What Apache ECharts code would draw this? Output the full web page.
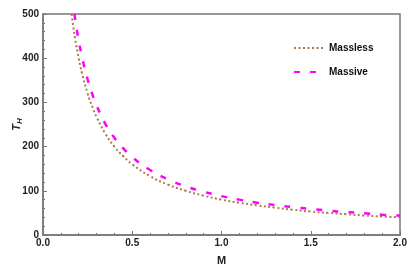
<!DOCTYPE html>
<html><head><meta charset="utf-8">
<script src="https://cdn.jsdelivr.net/npm/echarts@6/dist/echarts.min.js"></script>
<style>html,body{margin:0;padding:0;background:#fff}#c{width:415px;height:272px}</style>
</head><body><div id="c"></div>
<script>
const masslessM = [0.16,0.17,0.18,0.2,0.22,0.25,0.28,0.3,0.35,0.4,0.45,0.5,0.6,0.7,0.8,0.9,1.0,1.1,1.2,1.3,1.4,1.5,1.6,1.7,1.8,1.9,2.0];
const masslessT = [500,471,444,400,364,320,286,267,229,200,178,160,133,114,100,89,80,73,67,62,57,53,50,47,44,42,40];
const massiveM = [0.176,0.19,0.2,0.22,0.25,0.28,0.3,0.35,0.4,0.45,0.5,0.6,0.7,0.8,0.9,1.0,1.1,1.2,1.3,1.4,1.5,1.6,1.7,1.8,1.9,2.0];
const massiveT = [500,463,440,400,352,314,293,251,220,196,176,147,126,110,98,88,80,73,68,63,59,55,52,49,46,44];
const xTicks = [0.0,0.5,1.0,1.5,2.0];
const yTicks = [0,100,200,300,400,500];
const seriesNames = ['Massless','Massive'];

const font = 'Liberation Sans, Arial, sans-serif';
const chart = echarts.init(document.getElementById('c'), null, {renderer:'canvas'});
const pairs = (xs, ys) => xs.map((x,i)=>[x, ys[i]]);
chart.setOption({
  animation:false,
  grid:{left:43, right:15, top:14, bottom:37, show:true, borderColor:'#777', borderWidth:1.5,
        containLabel:false, outerBoundsMode:'none'},
  legend:{
    orient:'vertical', left:288, top:38, itemWidth:30, itemHeight:10, itemGap:14,
    itemStyle:{opacity:0},
    textStyle:{fontFamily:font, fontWeight:'bold', fontSize:10, color:'#111'},
    data:seriesNames
  },
  xAxis:{
    type:'value', min:0, max:2, interval:0.5,
    name:'M', nameLocation:'middle', nameGap:20, nameMoveOverlap:false,
    nameTextStyle:{fontFamily:font, fontWeight:'bold', fontSize:11, color:'#222'},
    axisLine:{show:true, lineStyle:{color:'#777', width:1.5}},
    axisTick:{show:true, inside:true, length:4, lineStyle:{color:'#777'}},
    minorTick:{show:true, splitNumber:5, length:2, lineStyle:{color:'#777'}},
    splitLine:{show:false},
    axisLabel:{fontFamily:font, fontWeight:'bold', fontSize:10, color:'#222', margin:3,
      formatter:v=>xTicks.includes(v)?v.toFixed(1):''}
  },
  yAxis:{
    type:'value', min:0, max:500, interval:100,
    name:'{t|T}{h|H}', nameLocation:'middle', nameGap:19, nameRotate:90, nameMoveOverlap:false,
    nameTextStyle:{rich:{
      t:{fontFamily:font, fontStyle:'italic', fontWeight:'bold', fontSize:11, color:'#222'},
      h:{fontFamily:font, fontStyle:'italic', fontWeight:'bold', fontSize:8, color:'#222', padding:[6,0,0,0]}
    }},
    axisLine:{show:true, lineStyle:{color:'#777', width:1.5}},
    axisTick:{show:true, inside:true, length:4, lineStyle:{color:'#777'}},
    minorTick:{show:true, splitNumber:5, length:2, lineStyle:{color:'#777'}},
    splitLine:{show:false},
    axisLabel:{fontFamily:font, fontWeight:'bold', fontSize:10, color:'#222', margin:4,
      formatter:v=>yTicks.includes(v)?String(v):''}
  },
  series:[
    {name:seriesNames[0], type:'line', smooth:true, symbol:'none', data:pairs(masslessM, masslessT),
     lineStyle:{color:'#b0784a', width:2, type:[2,2.5], cap:'butt'}, itemStyle:{color:'#b0784a'}},
    {name:seriesNames[1], type:'line', smooth:true, symbol:'none', data:pairs(massiveM, massiveT),
     lineStyle:{color:'#ff00ff', width:2.5, type:[6,10]}, itemStyle:{color:'#ff00ff'}}
  ]
});
</script></body></html>
